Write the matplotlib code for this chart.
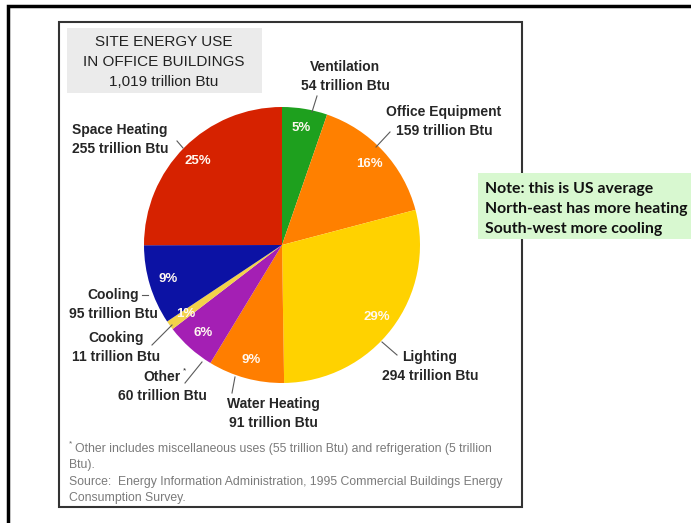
import matplotlib.pyplot as plt
from matplotlib.patches import Rectangle

W, H = 691, 523

# energy use by end use, trillion Btu (clockwise from 12 o'clock)
categories = ["Ventilation", "Office Equipment", "Lighting", "Water Heating",
              "Other", "Cooking", "Cooling", "Space Heating"]
values = [54, 159, 294, 91, 60, 11, 95, 255]
colors = ["#1ea01e", "#ff8000", "#ffd200", "#ff7e00",
          "#a41fb4", "#f2d24a", "#0c12a4", "#d62200"]

title_lines = ["SITE ENERGY USE", "IN OFFICE BUILDINGS", "1,019 trillion Btu"]
note_lines = ["Note: this is US average", "North-east has more heating",
              "South-west more cooling"]
footnote_lines = [
    "Other includes miscellaneous uses (55 trillion Btu) and refrigeration (5 trillion",
    "Btu).",
    "Source:  Energy Information Administration, 1995 Commercial Buildings Energy",
    "Consumption Survey.",
]

# label placement in pixels: (text x, first line y, leader start, leader end)
label_layout = {
    "Ventilation": (345, 67, (312, 112), (317, 96)),
    "Office Equipment": (444, 112, (376, 147), (390, 132)),
    "Lighting": (430, 357, (382, 342), (397, 355)),
    "Water Heating": (273, 404, (232, 393), (235, 377)),
    "Other": (162, 377, (185, 383), (202, 362)),
    "Cooking": (116, 338, (152, 345), (172, 325)),
    "Cooling": (113, 295, (142, 295), (148, 295)),
    "Space Heating": (120, 130, (177, 141), (183, 148)),
}

cx, cy, r = 282, 245, 138

plt.rcParams["font.family"] = ["Liberation Sans", "DejaVu Sans"]
fig = plt.figure(figsize=(W / 100, H / 100), dpi=100)
fig.patch.set_facecolor("white")

# pixel-space canvas for frames, boxes and labels
bg = fig.add_axes([0, 0, 1, 1])
bg.set_xlim(0, W)
bg.set_ylim(H, 0)
bg.axis("off")

# slide frame (only left and top edges fall inside the image)
bg.plot([8, 8, W + 5], [H + 5, 6, 6], color="black", lw=2.5,
        solid_joinstyle="miter", zorder=1)

# chart panel
bg.add_patch(Rectangle((59, 22), 463, 485, facecolor="white",
                       edgecolor="#333333", lw=1.5, zorder=2))
bg.add_patch(Rectangle((67, 28), 195, 65, facecolor="#ebebeb",
                       edgecolor="none", zorder=3))
for i, line in enumerate(title_lines):
    bg.text(164, 42 + 20 * i, line, ha="center", va="center",
            fontsize=11, color="#222222", zorder=4)

# pie in its own square axes
pax = fig.add_axes([(cx - r) / W, (H - cy - r) / H, 2 * r / W, 2 * r / H])
wedges, _, pcts = pax.pie(
    values, colors=colors, startangle=90, counterclock=False,
    autopct=lambda p: f"{p:.0f}%", pctdistance=0.86,
    wedgeprops=dict(linewidth=0),
    textprops=dict(color="#fff8f0", fontsize=9.5, fontweight="bold"),
)
pax.set_xlim(-1, 1)
pax.set_ylim(-1, 1)
pax.axis("off")

# overlay for labels and leader lines
top = fig.add_axes([0, 0, 1, 1])
top.set_xlim(0, W)
top.set_ylim(H, 0)
top.axis("off")
top.patch.set_alpha(0)

for name, val in zip(categories, values):
    tx, ty, p0, p1 = label_layout[name]
    top.plot([p0[0], p1[0]], [p0[1], p1[1]], color="#5a5a5a", lw=0.8)
    top.text(tx, ty, name, ha="center", va="center", fontsize=10,
             fontweight="bold", color="#262626")
    top.text(tx, ty + 19, f"{val} trillion Btu", ha="center", va="center",
             fontsize=10, fontweight="bold", color="#262626")
    if name == "Other":
        top.text(tx + 23, ty - 6, "*", ha="center", va="center",
                 fontsize=6, color="#262626")

# footnote and source
top.text(69, 444, "*", fontsize=6, color="#666666", va="center")
for i, line in enumerate(footnote_lines):
    x0 = 75 if i == 0 else 69
    top.text(x0, 449 + 16.3 * i, line, fontsize=8.8, color="#7a7a7a",
             va="center", ha="left")

# side note
top.add_patch(Rectangle((478, 173), 215, 66, facecolor="#d8f8d0",
                        edgecolor="none", zorder=5))
for i, line in enumerate(note_lines):
    top.text(485, 189 + 20 * i, line, fontsize=11.4, fontweight="bold",
             family=["Lato", "DejaVu Sans"], color="#111111",
             va="center", ha="left", zorder=6)

fig.savefig("out.png", dpi=100)
